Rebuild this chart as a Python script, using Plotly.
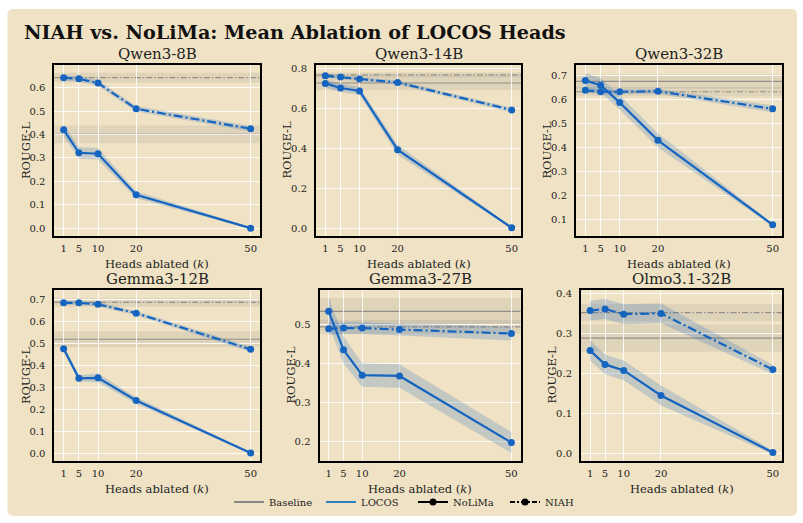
import plotly.graph_objects as go
from plotly.subplots import make_subplots

# ---------------- data ----------------
K = [1, 5, 10, 20, 50]
K_LABELS = ["1", "5", "10", "20", "50"]
MODELS = ["Qwen3-8B", "Qwen3-14B", "Qwen3-32B", "Gemma3-12B", "Gemma3-27B", "Olmo3.1-32B"]

NOLIMA_MEAN = [
    [0.420, 0.322, 0.318, 0.143, 0.000],
    [0.725, 0.702, 0.687, 0.393, 0.002],
    [0.679, 0.659, 0.587, 0.430, 0.079],
    [0.477, 0.342, 0.344, 0.241, 0.002],
    [0.535, 0.436, 0.371, 0.369, 0.198],
    [0.258, 0.223, 0.208, 0.145, 0.002],
]
NOLIMA_STD = [
    [0.025, 0.025, 0.025, 0.015, 0.004],
    [0.020, 0.020, 0.020, 0.025, 0.005],
    [0.030, 0.030, 0.030, 0.030, 0.006],
    [0.015, 0.015, 0.020, 0.015, 0.004],
    [0.035, 0.035, 0.030, 0.030, 0.027],
    [0.025, 0.025, 0.025, 0.025, 0.005],
]
NIAH_MEAN = [
    [0.643, 0.638, 0.620, 0.510, 0.425],
    [0.763, 0.757, 0.747, 0.730, 0.592],
    [0.638, 0.632, 0.632, 0.634, 0.561],
    [0.686, 0.686, 0.679, 0.639, 0.474],
    [0.490, 0.492, 0.492, 0.488, 0.478],
    [0.358, 0.362, 0.349, 0.351, 0.210],
]
NIAH_STD = [
    [0.012, 0.012, 0.012, 0.012, 0.012],
    [0.010, 0.010, 0.010, 0.010, 0.012],
    [0.010, 0.010, 0.010, 0.010, 0.015],
    [0.010, 0.010, 0.010, 0.010, 0.012],
    [0.015, 0.015, 0.015, 0.015, 0.018],
    [0.025, 0.025, 0.025, 0.025, 0.012],
]
BASE_NOLIMA = [0.401, 0.727, 0.675, 0.520, 0.535, 0.289]
BASE_NOLIMA_STD = [0.038, 0.036, 0.030, 0.037, 0.035, 0.034]
BASE_NIAH = [0.643, 0.768, 0.632, 0.688, 0.495, 0.353]
BASE_NIAH_STD = [0.021, 0.012, 0.020, 0.020, 0.018, 0.022]

# ---------------- style / layout ----------------
W, H = 803, 523
BEIGE = "#F0E2C4"
BLUE = "#1565C0"
LEGEND_BLUE = "#2E82C0"
BAND = "rgba(21,101,192,0.20)"
BASE_BAND = "rgba(128,128,128,0.15)"
BASE_LINE = "rgba(120,120,120,0.75)"
FONT = "DejaVu Serif, serif"

Y_RANGES = [(-0.034, 0.697), (-0.04, 0.817), (0.032, 0.743),
            (-0.036, 0.745), (0.150, 0.590), (-0.02, 0.41)]
Y_DTICK = [0.1, 0.2, 0.1, 0.1, 0.1, 0.1]
X_RANGE = (-1.45, 52.45)
# pixel boxes of each panel: left, right, top, bottom
BOXES = [(54.3, 260, 63.3, 235), (316, 521, 63.3, 235), (576, 782, 63.3, 235),
         (54.3, 260, 289, 461), (319.5, 520.5, 289, 461), (581, 782, 289, 461)]
YTITLE_X = [25.5, 287, 547, 25.5, 291, 552]

fig = make_subplots(rows=2, cols=3)

def px_x(v):
    return v / W

def px_y(v):
    return 1 - v / H

annotations = []
shapes = []

# rounded background
x0, x1, y0, y1 = px_x(7.5), px_x(797), px_y(7), px_y(516)
rx, ry = 6 / W, 6 / H
path = (f"M {x0+rx},{y0} L {x1-rx},{y0} Q {x1},{y0} {x1},{y0-ry} "
        f"L {x1},{y1+ry} Q {x1},{y1} {x1-rx},{y1} L {x0+rx},{y1} "
        f"Q {x0},{y1} {x0},{y1+ry} L {x0},{y0-ry} Q {x0},{y0} {x0+rx},{y0} Z")
shapes.append(dict(type="path", path=path, xref="paper", yref="paper",
                   fillcolor=BEIGE, line=dict(width=0), layer="below"))

for i, model in enumerate(MODELS):
    r, c = i // 3 + 1, i % 3 + 1
    xa = "x" if i == 0 else f"x{i+1}"
    ya = "y" if i == 0 else f"y{i+1}"

    # shaded std bands
    for mean, std in ((NIAH_MEAN[i], NIAH_STD[i]), (NOLIMA_MEAN[i], NOLIMA_STD[i])):
        up = [m + s for m, s in zip(mean, std)]
        lo = [m - s for m, s in zip(mean, std)]
        fig.add_trace(go.Scatter(x=K + K[::-1], y=up + lo[::-1], fill="toself",
                                 fillcolor=BAND, line=dict(width=0), mode="lines",
                                 hoverinfo="skip", showlegend=False), row=r, col=c)
    # lines
    fig.add_trace(go.Scatter(x=K, y=NIAH_MEAN[i], mode="lines+markers",
                             line=dict(color=BLUE, width=2.2, dash="9px,3px,2px,3px"),
                             marker=dict(color=BLUE, size=7), showlegend=False),
                  row=r, col=c)
    fig.add_trace(go.Scatter(x=K, y=NOLIMA_MEAN[i], mode="lines+markers",
                             line=dict(color=BLUE, width=2.2),
                             marker=dict(color=BLUE, size=7), showlegend=False),
                  row=r, col=c)

    # baselines
    for b, s, dash in ((BASE_NOLIMA[i], BASE_NOLIMA_STD[i], "solid"),
                       (BASE_NIAH[i], BASE_NIAH_STD[i], "6px,2px,1.5px,2px")):
        shapes.append(dict(type="rect", xref=f"{xa} domain", yref=ya, x0=0, x1=1,
                           y0=b - s, y1=b + s, fillcolor=BASE_BAND,
                           line=dict(width=0), layer="below"))
        shapes.append(dict(type="line", xref=f"{xa} domain", yref=ya, x0=0, x1=1,
                           y0=b, y1=b, line=dict(color=BASE_LINE, width=1.2, dash=dash),
                           layer="below"))

    L, R, T, B = BOXES[i]
    xkey = "xaxis" if i == 0 else f"xaxis{i+1}"
    ykey = "yaxis" if i == 0 else f"yaxis{i+1}"
    common = dict(showline=True, linecolor="black", linewidth=2, mirror=True,
                  showgrid=True, gridcolor="rgba(255,255,255,0.85)", gridwidth=1,
                  zeroline=False, ticks="outside",
                  tickcolor="rgba(0,0,0,0)",
                  tickfont=dict(family=FONT, size=10, color="#222"))
    fig.layout[xkey].update(domain=[px_x(L), px_x(R)], range=list(X_RANGE), ticklen=2,
                            tickmode="array", tickvals=K, ticktext=K_LABELS, **common)
    fig.layout[ykey].update(domain=[px_y(B), px_y(T)], range=list(Y_RANGES[i]), ticklen=5,
                            tick0=0, dtick=Y_DTICK[i], tickformat=".1f", **common)

    cx = (L + R) / 2
    annotations.append(dict(text=model, x=px_x(cx), y=px_y(T - 11), xref="paper",
                            yref="paper", showarrow=False, xanchor="center",
                            yanchor="middle", font=dict(family=FONT, size=15, color="#222")))
    annotations.append(dict(text="Heads ablated (<i>k</i>)", x=px_x(cx), y=px_y(B + 28),
                            xref="paper", yref="paper", showarrow=False,
                            xanchor="center", yanchor="middle",
                            font=dict(family=FONT, size=11.5, color="#222")))
    annotations.append(dict(text="ROUGE-L", x=px_x(YTITLE_X[i]), y=px_y((T + B) / 2),
                            xref="paper", yref="paper", showarrow=False, textangle=-90,
                            xanchor="center", yanchor="middle",
                            font=dict(family=FONT, size=11.5, color="#222")))

annotations.append(dict(text="<b>NIAH vs. NoLiMa: Mean Ablation of LOCOS Heads</b>",
                        x=px_x(22), y=px_y(31), xref="paper", yref="paper",
                        showarrow=False, xanchor="left", yanchor="middle",
                        font=dict(family=FONT, size=19.2, color="#111")))

# legend proxies
fig.add_trace(go.Scatter(x=[None], y=[None], mode="lines", name="Baseline",
                         line=dict(color="#888888", width=2)), row=1, col=1)
fig.add_trace(go.Scatter(x=[None], y=[None], mode="lines", name="LOCOS",
                         line=dict(color=LEGEND_BLUE, width=2)), row=1, col=1)
fig.add_trace(go.Scatter(x=[None], y=[None], mode="lines+markers", name="NoLiMa",
                         line=dict(color="black", width=2),
                         marker=dict(color="black", size=7)), row=1, col=1)
fig.add_trace(go.Scatter(x=[None], y=[None], mode="lines+markers", name="NIAH",
                         line=dict(color="black", width=2, dash="5px,2px,2px,2px"),
                         marker=dict(color="black", size=7)), row=1, col=1)

fig.update_layout(
    width=W, height=H, margin=dict(l=0, r=0, t=0, b=0),
    paper_bgcolor="white", plot_bgcolor=BEIGE,
    annotations=annotations, shapes=shapes,
    showlegend=True,
    legend=dict(orientation="h", x=px_x(413), xanchor="center", y=px_y(502),
                yanchor="middle",
                bgcolor="rgba(0,0,0,0)", font=dict(family=FONT, size=10, color="#222"),
                itemwidth=30, entrywidth=47, traceorder="normal"),
    font=dict(family=FONT),
)

fig.write_html("out.html")
